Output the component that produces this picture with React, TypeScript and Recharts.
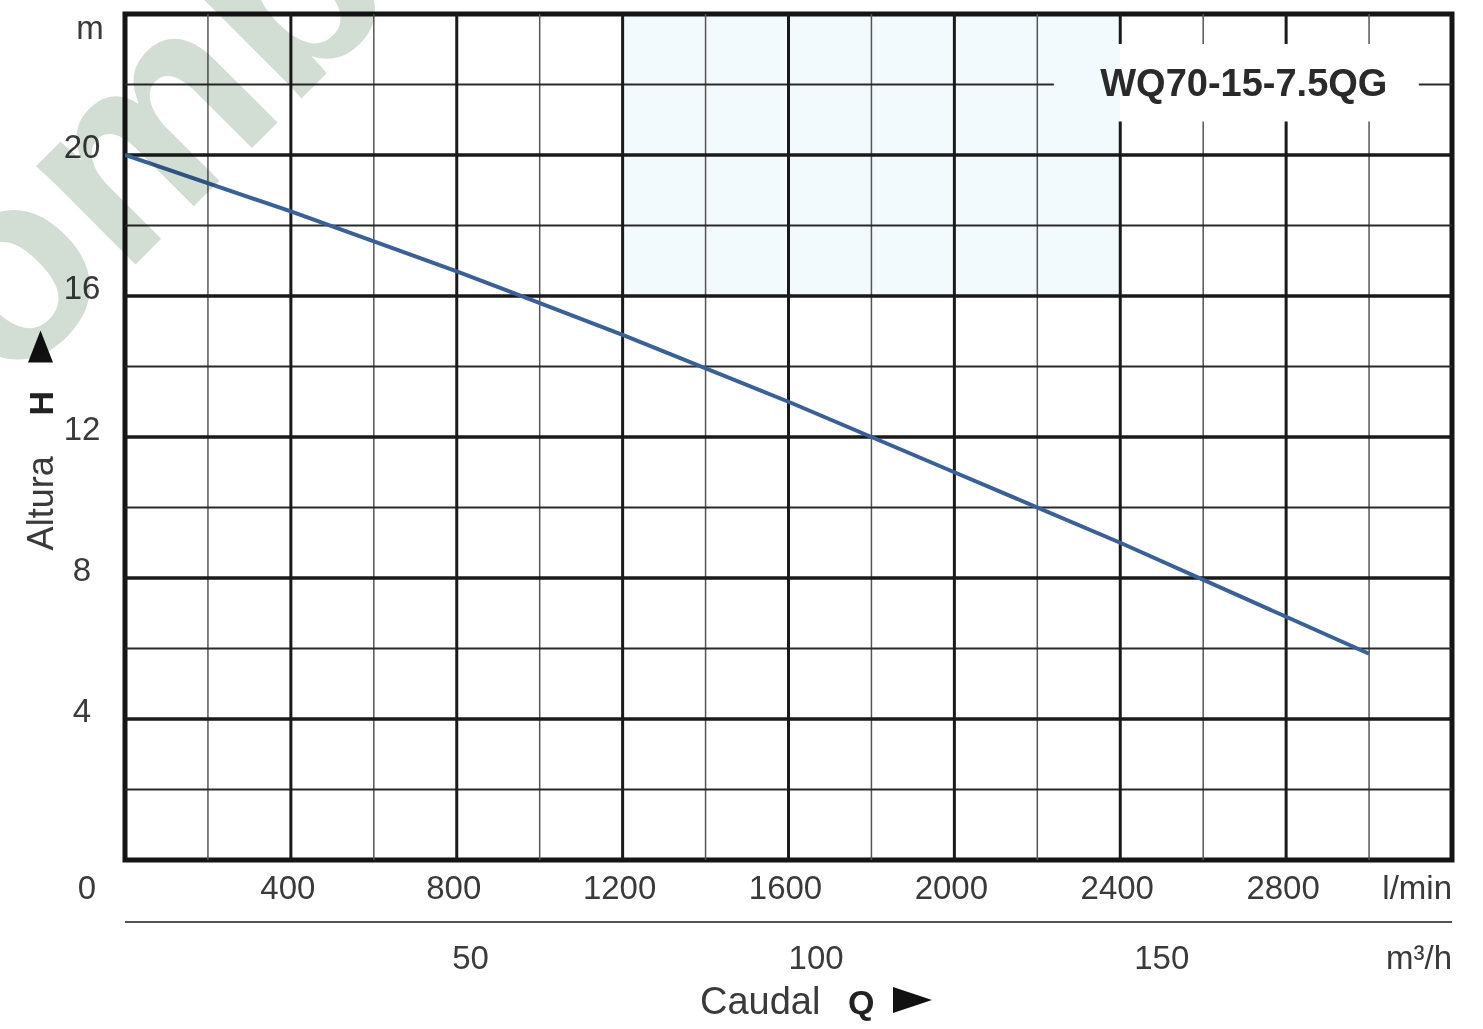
import React from 'react';
import {
  LineChart,
  Line,
  XAxis,
  YAxis,
  ReferenceLine,
  ReferenceArea,
  Label,
} from 'recharts';

// ---- data ----
const flowLmin = [0, 400, 800, 1200, 1600, 2000, 2400, 2800, 3000];
const headM = [20.0, 18.4, 16.7, 14.9, 13.0, 11.0, 9.0, 6.9, 5.85];

const flowTicks = [400, 800, 1200, 1600, 2000, 2400, 2800, 3200];
const flowTickLabels = ['400', '800', '1200', '1600', '2000', '2400', '2800', 'l/min'];
const m3hValues = [50, 100, 150];
const m3hTickLabels = ['50', '100', '150', 'm³/h'];
const headTicks = [0, 4, 8, 12, 16, 20, 24];
const headTickLabels = ['0', '4', '8', '12', '16', '20', 'm'];

const majorFlow = [400, 800, 1200, 1600, 2000, 2400, 2800];
const minorFlow = [200, 600, 1000, 1400, 1800, 2200, 2600, 3000];
const majorHead = [4, 8, 12, 16, 20];
const minorHead = [2, 6, 10, 14, 18, 22];

const modelName = 'WQ70-15-7.5QG';
const yTitle = 'Altura';
const yTitleBold = 'H';
const xTitle = 'Caudal';
const xTitleBold = 'Q';
const watermark = 'omb';

// title box (in data units) that interrupts the grid
const titleBox = { x1: 2240, x2: 3120, y1: 20.95, y2: 23.15 };
const titlePos = { x: 2698, y: 22.07 };

const data = flowLmin.map((q, i) => ({ q, h: headM[i] }));
// m³/h tick positions expressed on the l/min scale (1 m³/h = 1000/60 l/min)
const m3hTicks = [...m3hValues.map((m) => (m * 1000) / 60), 3200];

const FONT = "'Liberation Sans', Arial, Helvetica, sans-serif";
const TXT = '#3a3a3a';

const FlowTick = (props: any) => {
  const { x, y, payload } = props;
  const idx = flowTicks.indexOf(payload.value);
  const label = flowTickLabels[idx] ?? String(payload.value);
  const isUnit = payload.value === 3200;
  return (
    <text
      x={isUnit ? x : x - 3}
      y={y + 27}
      dy="0.36em"
      textAnchor={isUnit ? 'end' : 'middle'}
      fontSize={33}
      fontFamily={FONT}
      fill={TXT}
    >
      {label}
    </text>
  );
};

const M3Tick = (props: any) => {
  const { x, y, payload, index } = props;
  const label = m3hTickLabels[index] ?? '';
  const isUnit = payload.value === 3200;
  return (
    <text
      x={x}
      y={y + 35}
      dy="0.36em"
      textAnchor={isUnit ? 'end' : 'middle'}
      fontSize={33}
      fontFamily={FONT}
      fill={TXT}
    >
      {label}
    </text>
  );
};

const HeadTick = (props: any) => {
  const { x, y, payload } = props;
  const idx = headTicks.indexOf(payload.value);
  const label = headTickLabels[idx] ?? String(payload.value);
  let tx = x - 43;
  let ty = y - 9;
  if (payload.value === 0) {
    tx = x - 38;
    ty = y + 27;
  } else if (payload.value === 24) {
    tx = x - 35;
    ty = y + 13;
  }
  return (
    <text
      x={tx}
      y={ty}
      dy="0.36em"
      textAnchor="middle"
      fontSize={33}
      fontFamily={FONT}
      fill={TXT}
    >
      {label}
    </text>
  );
};

const YTitle = (props: any) => {
  const vb = props.viewBox || { x: 65, y: 14, width: 60, height: 846 };
  const cx = vb.x - 25;
  const cy = vb.y + vb.height * 0.504;
  return (
    <g transform={`translate(${cx},${cy}) rotate(-90)`}>
      <text x={-110} y={13} fontSize={36} fontFamily={FONT} fill={TXT}>
        {yTitle}
      </text>
      <text x={25} y={13} fontSize={34} fontWeight="bold" fontFamily={FONT} fill="#222">
        {yTitleBold}
      </text>
      <polygon points="78,-12 78,13 110,0.5" fill="#111" />
    </g>
  );
};

const XTitle = (props: any) => {
  const vb = props.viewBox || { x: 125, y: 922, width: 1327, height: 60 };
  const bx = vb.x + 575;
  const by = vb.y + 92;
  return (
    <g>
      <text x={bx} y={by} fontSize={38} fontFamily={FONT} fill={TXT}>
        {xTitle}
      </text>
      <text x={bx + 148} y={by} fontSize={34} fontWeight="bold" fontFamily={FONT} fill="#222">
        {xTitleBold}
      </text>
      <polygon
        points={`${bx + 193},${by - 27} ${bx + 193},${by - 1} ${bx + 232},${by - 14}`}
        fill="#111"
      />
    </g>
  );
};

const TitleLabel = (props: any) => {
  const vb = props.viewBox || {};
  const x = (vb.x ?? 0) + (vb.width ?? 0) / 2;
  const y = (vb.y ?? 0) + (vb.height ?? 0) / 2;
  return (
    <text
      x={x}
      y={y}
      dy="0.36em"
      textAnchor="middle"
      fontSize={38}
      fontWeight="bold"
      fontFamily={FONT}
      fill="#2a2a2a"
    >
      {modelName}
    </text>
  );
};

// vertical grid line, broken around the title box if it crosses it
const vLines = (v: number, stroke: string, w: number, key: string) => {
  if (v > titleBox.x1 && v < titleBox.x2) {
    return [
      <ReferenceLine
        key={key + 'a'}
        xAxisId="a"
        segment={[{ x: v, y: 0 }, { x: v, y: titleBox.y1 }]}
        stroke={stroke}
        strokeWidth={w}
      />,
      <ReferenceLine
        key={key + 'b'}
        xAxisId="a"
        segment={[{ x: v, y: titleBox.y2 }, { x: v, y: 24 }]}
        stroke={stroke}
        strokeWidth={w}
      />,
    ];
  }
  return [<ReferenceLine key={key} xAxisId="a" x={v} stroke={stroke} strokeWidth={w} />];
};

const hLines = (v: number, stroke: string, w: number, key: string) => {
  if (v > titleBox.y1 && v < titleBox.y2) {
    return [
      <ReferenceLine
        key={key + 'a'}
        xAxisId="a"
        segment={[{ x: 0, y: v }, { x: titleBox.x1, y: v }]}
        stroke={stroke}
        strokeWidth={w}
      />,
      <ReferenceLine
        key={key + 'b'}
        xAxisId="a"
        segment={[{ x: titleBox.x2, y: v }, { x: 3200, y: v }]}
        stroke={stroke}
        strokeWidth={w}
      />,
    ];
  }
  return [<ReferenceLine key={key} xAxisId="a" y={v} stroke={stroke} strokeWidth={w} />];
};

export default function App() {
  return (
    <div
      style={{
        position: 'absolute',
        left: 0,
        top: 0,
        width: 1483,
        height: 1029,
        background: '#ffffff',
      }}
    >
      <LineChart
        width={1483}
        height={1029}
        data={data}
        margin={{ top: 14, right: 31, left: 65, bottom: 47 }}
      >
        <XAxis
          xAxisId="a"
          type="number"
          dataKey="q"
          domain={[0, 3200]}
          ticks={flowTicks}
          interval={0}
          axisLine={false}
          tickLine={false}
          tickSize={0}
          tickMargin={0}
          height={62}
          tick={<FlowTick />}
          allowDataOverflow
        />
        <XAxis
          xAxisId="b"
          type="number"
          dataKey="q"
          domain={[0, 3200]}
          ticks={m3hTicks}
          interval={0}
          axisLine={{ stroke: '#555', strokeWidth: 2 }}
          tickLine={false}
          tickSize={0}
          tickMargin={0}
          height={60}
          tick={<M3Tick />}
          allowDataOverflow
        >
          <Label content={<XTitle />} />
        </XAxis>
        <YAxis
          type="number"
          domain={[0, 24]}
          ticks={headTicks}
          interval={0}
          axisLine={false}
          tickLine={false}
          tickSize={0}
          tickMargin={0}
          width={60}
          tick={<HeadTick />}
          allowDataOverflow
        >
          <Label content={<YTitle />} />
        </YAxis>

        <ReferenceArea
          xAxisId="a"
          x1={1200}
          x2={2400}
          y1={16}
          y2={24}
          fill="#d6eef8"
          fillOpacity={0.3}
          stroke="none"
        />

        {minorFlow.flatMap((v) => vLines(v, '#555', 1.5, 'mx' + v))}
        {minorHead.flatMap((v) => hLines(v, '#2a2a2a', 2, 'my' + v))}
        {majorFlow.flatMap((v) => vLines(v, '#1a1a1a', 3, 'Mx' + v))}
        {majorHead.flatMap((v) => hLines(v, '#1a1a1a', 3.5, 'My' + v))}

        <ReferenceArea
          xAxisId="a"
          x1={titlePos.x - 178}
          x2={titlePos.x + 178}
          y1={titlePos.y - 0.67}
          y2={titlePos.y + 0.67}
          fill="none"
          stroke="none"
          label={<TitleLabel />}
        />

        <Line
          xAxisId="b"
          type="linear"
          dataKey="h"
          stroke="none"
          dot={false}
          activeDot={false}
          isAnimationActive={false}
        />
        <Line
          xAxisId="a"
          type="linear"
          dataKey="h"
          stroke="#37609c"
          strokeWidth={4}
          dot={false}
          activeDot={false}
          isAnimationActive={false}
        />

        <ReferenceArea
          xAxisId="a"
          x1={0}
          x2={3200}
          y1={0}
          y2={24}
          fill="none"
          stroke="#151515"
          strokeWidth={5}
        />
      </LineChart>
      <svg
        width={1483}
        height={1029}
        style={{
          position: 'absolute',
          left: 0,
          top: 0,
          mixBlendMode: 'multiply',
          pointerEvents: 'none',
        }}
      >
        <text
          transform="translate(8,392) rotate(-45)"
          fontSize={265}
          fontWeight="bold"
          fontFamily={FONT}
          fill="#d2ddd4"
        >
          {watermark}
        </text>
      </svg>
    </div>
  );
}
